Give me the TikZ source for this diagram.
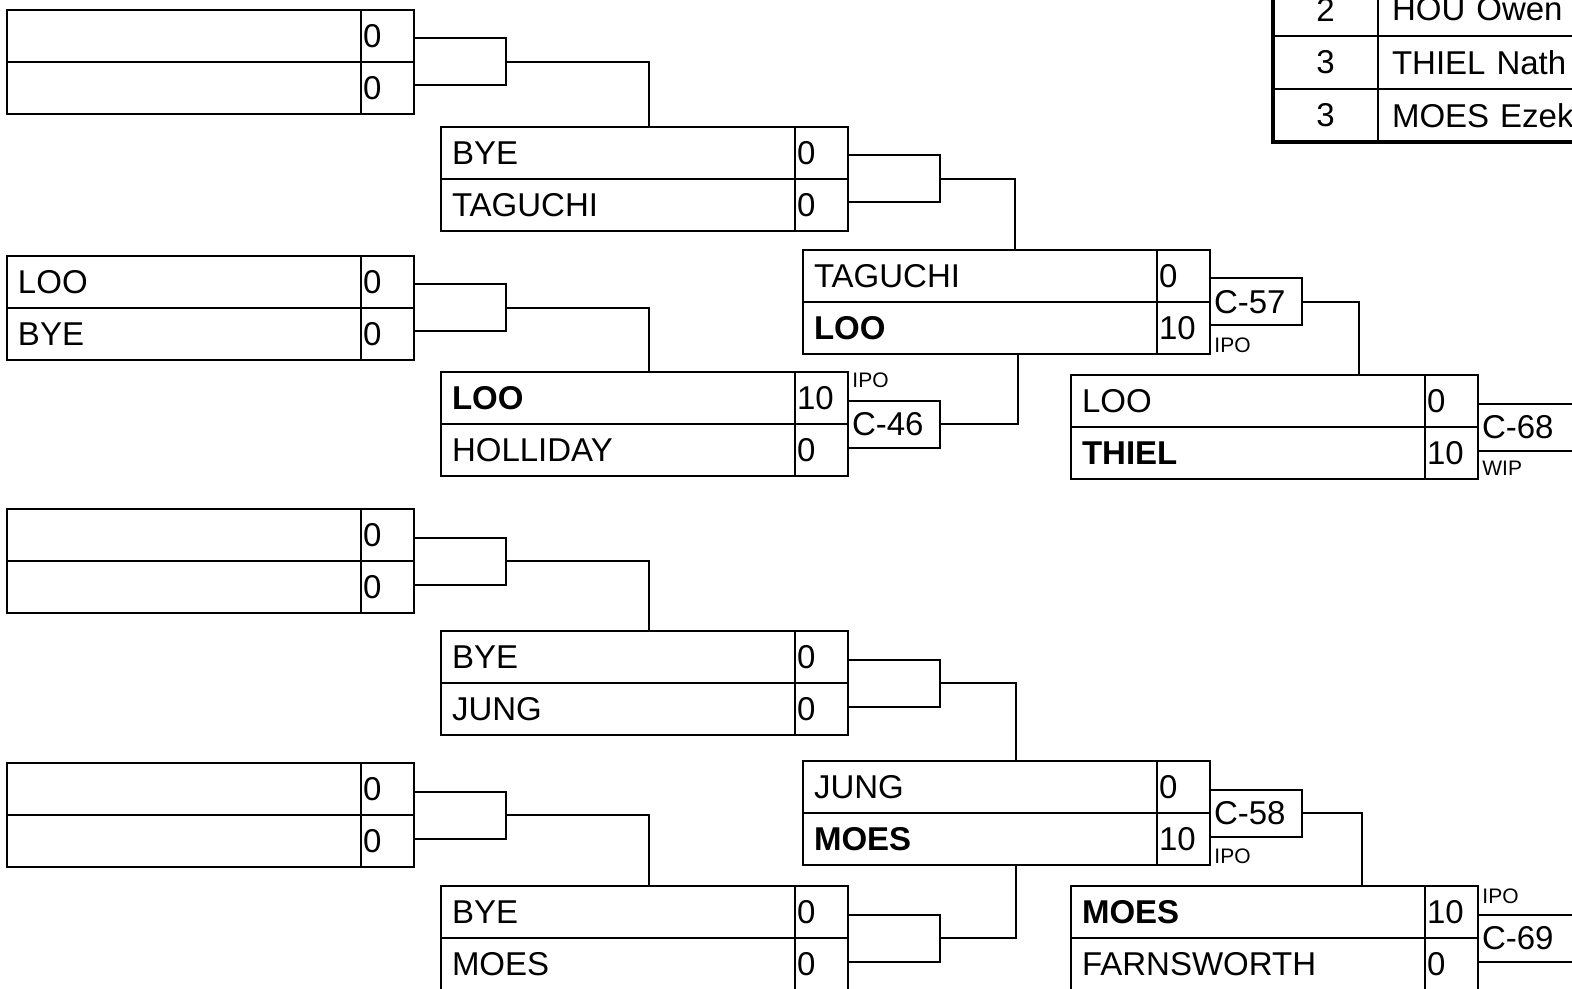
\documentclass[tikz,border=0pt]{standalone}
\usepackage{fontspec}
\setmainfont{Liberation Sans}
\usetikzlibrary{positioning}
\newcommand{\bout}[7]{%
  \node[namecell, anchor=north west] (#1a) at (#2,#3) {#4};
  \node[scorecell, right=0pt of #1a] (#1as) {#5};
  \node[namecell, below=0pt of #1a] (#1b) {#6};
  \node[scorecell, right=0pt of #1b] (#1bs) {#7};
}

\begin{document}
\begin{tikzpicture}[
    x=0.5pt, y=-0.5pt,
    cell/.style={draw, line width=1pt, outer sep=0pt, minimum height=26pt, align=left, font=\fontsize{16.5pt}{18pt}\selectfont},
    namecell/.style={cell, text width=166pt, inner xsep=5.5pt},
    scorecell/.style={cell, text width=24.5pt, inner xsep=1pt},
    gamebox/.style={cell, anchor=west, minimum height=23.5pt, text width=42pt, inner xsep=2pt},
    tag/.style={inner sep=1pt, font=\fontsize{10.5pt}{12pt}\selectfont},
    wire/.style={line width=1pt},
    tnum/.style={draw, line width=1pt, outer sep=0pt, minimum width=52.5pt, minimum height=26.5pt, font=\fontsize{16.5pt}{18pt}\selectfont},
    tname/.style={tnum, text width=185pt, inner xsep=7pt, align=left}
  ]
    \useasboundingbox (0,0) rectangle (1572,989);
    \clip (0,0) rectangle (1572,989);

    % first column
    \bout{p1}{7}{10}{}{0}{}{0}
    \bout{p2}{7}{256}{LOO}{0}{BYE}{0}
    \bout{p3}{7}{509}{}{0}{}{0}
    \bout{p4}{7}{763}{}{0}{}{0}
    % second column
    \bout{q1}{441}{127}{BYE}{0}{TAGUCHI}{0}
    \bout{q2}{441}{372}{\textbf{LOO}}{10}{HOLLIDAY}{0}
    \bout{q3}{441}{631}{BYE}{0}{JUNG}{0}
    \bout{q4}{441}{886}{BYE}{0}{MOES}{0}
    % third column
    \bout{s1}{803}{250}{TAGUCHI}{0}{\textbf{LOO}}{10}
    \bout{s2}{803}{761}{JUNG}{0}{\textbf{MOES}}{10}
    % fourth column
    \bout{f1}{1071}{375}{LOO}{0}{\textbf{THIEL}}{10}
    \bout{f2}{1071}{886}{\textbf{MOES}}{10}{FARNSWORTH}{0}

    % game boxes
    \node[gamebox] (gp1) at (p1as.south east) {};
    \node[gamebox] (gp2) at (p2as.south east) {};
    \node[gamebox] (gp3) at (p3as.south east) {};
    \node[gamebox] (gp4) at (p4as.south east) {};
    \node[gamebox] (gq1) at (q1as.south east) {};
    \node[gamebox] (c46) at (q2as.south east) {C-46};
    \node[gamebox] (gq3) at (q3as.south east) {};
    \node[gamebox] (gq4) at (q4as.south east) {};
    \node[gamebox] (c57) at (s1as.south east) {C-57};
    \node[gamebox] (c58) at (s2as.south east) {C-58};
    \node[gamebox, text width=60pt] (c68) at (f1as.south east) {C-68};
    \node[gamebox, text width=60pt] (c69) at (f2as.south east) {C-69};

    \node[tag, anchor=south west] (t46) at ([xshift=1pt, yshift=5pt]c46.north west) {IPO};
    \node[tag, anchor=north west] (t57) at ([xshift=1pt, yshift=-5pt]c57.south west) {IPO};
    \node[tag, anchor=north west] (t58) at ([xshift=1pt, yshift=-5pt]c58.south west) {IPO};
    \node[tag, anchor=north west] (t68) at ([xshift=1pt, yshift=-4pt]c68.south west) {WIP};
    \node[tag, anchor=south west] (t69) at ([xshift=1pt, yshift=4pt]c69.north west) {IPO};

    % connectors
    \draw[wire] (gp1.east) -| ([xshift=104pt]q1a.north west);
    \draw[wire] (gp2.east) -| ([xshift=104pt]q2a.north west);
    \draw[wire] (gp3.east) -| ([xshift=104pt]q3a.north west);
    \draw[wire] (gp4.east) -| ([xshift=104pt]q4a.north west);
    \draw[wire] (gq1.east) -| ([xshift=106pt]s1a.north west);
    \draw[wire] (c46.east) -| ([xshift=107.5pt]s1b.south west);
    \draw[wire] (gq3.east) -| ([xshift=106.5pt]s2a.north west);
    \draw[wire] (gq4.east) -| ([xshift=106.5pt]s2b.south west);
    \draw[wire] (c57.east) -| ([xshift=144pt]f1a.north west);
    \draw[wire] (c58.east) -| ([xshift=145.5pt]f2a.north west);

    % standings table
    \node[tnum, anchor=south west] (r1) at (1273,36) {2};
    \node[tname, right=0pt of r1] (r1n) {HOU Owen};
    \node[tnum, below=0pt of r1] (r2) {3};
    \node[tname, right=0pt of r2] (r2n) {THIEL Nath};
    \node[tnum, below=0pt of r2] (r3) {3};
    \node[tname, right=0pt of r3] (r3n) {MOES Ezek};
    \draw[line width=2pt] (r1.north west) rectangle (r3n.south east);
  \end{tikzpicture}
\end{document}
